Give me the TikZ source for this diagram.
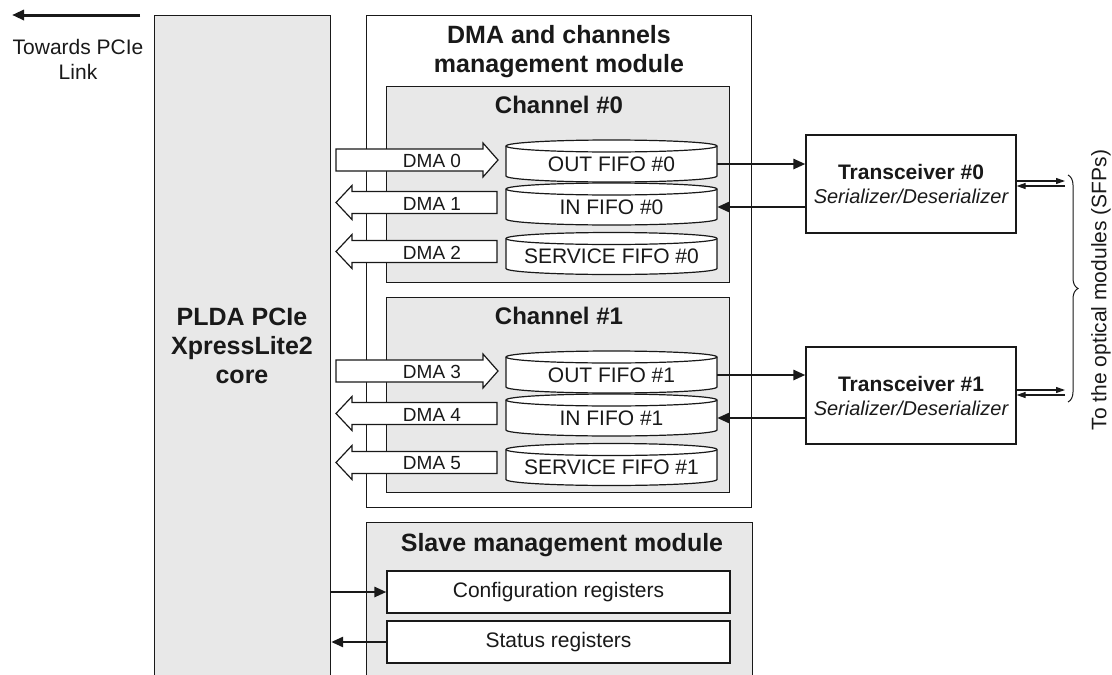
\documentclass[tikz,border=0pt]{standalone}
\usepackage{fontspec}
\setmainfont{Liberation Sans}
\usetikzlibrary{arrows.meta,decorations.pathreplacing}
\definecolor{panel}{RGB}{232,232,232}
\definecolor{ink}{RGB}{25,25,25}
\newcommand\fifo[4]{%
  \draw[frame,fill=white] ({#2-105.5},{#3-15}) -- ({#2-105.5},{#3+15})
    arc[start angle=180,end angle=360,x radius=105.5pt,y radius=6pt]
    -- ({#2+105.5},{#3-15})
    arc[start angle=0,end angle=180,x radius=105.5pt,y radius=6pt] -- cycle;
  \draw[frame] ({#2-105.5},{#3-15}) arc[start angle=180,end angle=360,x radius=105.5pt,y radius=6pt];
  \node[fifotxt] (#1) at (#2,{#3+3}) {#4};
}
\newcommand\dmaright[3]{%
  \draw[frame,fill=white] (336,{#2-11}) -- (483,{#2-11}) -- (483,{#2-17}) -- (498,#2)
    -- (483,{#2+17}) -- (483,{#2+11}) -- (336,{#2+11}) -- cycle;
  \node[dmatxt] (#1) at (432,{#2+1}) {#3};
}
\newcommand\dmaleft[3]{%
  \draw[frame,fill=white] (497,{#2-11}) -- (352,{#2-11}) -- (352,{#2-17}) -- (336,#2)
    -- (352,{#2+17}) -- (352,{#2+11}) -- (497,{#2+11}) -- cycle;
  \node[dmatxt] (#1) at (432,{#2+1}) {#3};
}
\begin{document}
\begin{tikzpicture}[x=1pt,y=-1pt,
  frame/.style={draw=ink,line width=1.2pt},
  grayframe/.style={frame,fill=panel,inner sep=0pt,anchor=north west},
  whiteframe/.style={frame,fill=white,inner sep=0pt},
  title/.style={font=\fontsize{25}{29}\selectfont\bfseries,align=center,text=ink},
  chtitle/.style={font=\fontsize{24}{28}\selectfont\bfseries,text=ink},
  txt/.style={font=\fontsize{21}{25}\selectfont,text=ink,align=center},
  dmatxt/.style={font=\fontsize{19}{22}\selectfont,text=ink},
  fifotxt/.style={txt,minimum width=211pt,minimum height=36pt,inner sep=0pt},
  trx/.style={whiteframe,minimum width=210pt,align=center,text=ink,font=\fontsize{21}{24}\selectfont},
  conn/.style={draw=ink,line width=2.6pt,-{Triangle[length=12pt,width=10pt]}},
  thinarrow/.style={draw=ink,line width=1.1pt,-{Triangle[length=9pt,width=6pt]}},
]
\useasboundingbox (0,0) rectangle (1112,675);
\clip (0,0) rectangle (1112,675);

% PCIe link arrow
\coordinate (pcieA) at (140,15);
\coordinate (pcieB) at (12,15);
\draw[conn,line width=3pt] (pcieA) -- (pcieB);
\node[txt] (pcietext) at (78,59) {Towards PCIe\\Link};

% PLDA core
\node[grayframe,minimum width=176pt,minimum height=690pt] (plda) at (154,15) {};
\node[title] (pldatext) at (242,346) {PLDA PCIe\\XpressLite2\\core};

% DMA module
\node[whiteframe,anchor=north west,minimum width=385pt,minimum height=492pt] (dmamod) at (366,15) {};
\node[title] (dmatitle) at (559,52) {DMA and channels\\management module};

% Channel 0
\node[grayframe,minimum width=343pt,minimum height=196pt] (ch0) at (386,86) {};
\node[chtitle] (ch0t) at (559,105) {Channel \#0};
\fifo{out0}{611.5}{161}{OUT FIFO \#0}
\fifo{in0}{611.5}{204}{IN FIFO \#0}
\fifo{srv0}{611.5}{253.5}{SERVICE FIFO \#0}

% Channel 1
\node[grayframe,minimum width=343pt,minimum height=195pt] (ch1) at (386,297) {};
\node[chtitle] (ch1t) at (559,316) {Channel \#1};
\fifo{out1}{611.5}{372}{OUT FIFO \#1}
\fifo{in1}{611.5}{415}{IN FIFO \#1}
\fifo{srv1}{611.5}{464.5}{SERVICE FIFO \#1}

% DMA arrows
\dmaright{dma0}{160}{DMA 0}
\dmaleft{dma1}{202.5}{DMA 1}
\dmaleft{dma2}{251.5}{DMA 2}
\dmaright{dma3}{371}{DMA 3}
\dmaleft{dma4}{413.5}{DMA 4}
\dmaleft{dma5}{462.5}{DMA 5}

% Slave management module
\node[grayframe,minimum width=386pt,minimum height=170pt] (slave) at (366,522) {};
\node[title,anchor=base] (slavet) at (562,551) {Slave management module};
\node[whiteframe,txt,minimum width=343pt,minimum height=42pt] (cfg) at (558.5,592) {Configuration registers};
\node[whiteframe,txt,minimum width=343pt,minimum height=42pt] (st) at (558.5,642) {Status registers};
\draw[conn] (cfg.west -| plda.east) -- (cfg.west);
\draw[conn] (st.west) -- (st.west -| plda.east);

% Transceivers
\node[trx,minimum height=98pt] (t0) at (911,184)
  {\textbf{Transceiver \#0}\\{\fontsize{20}{24}\selectfont\itshape Serializer/Deserializer}};
\node[trx,minimum height=97pt] (t1) at (911,395.5)
  {\textbf{Transceiver \#1}\\{\fontsize{20}{24}\selectfont\itshape Serializer/Deserializer}};

\draw[conn] (out0.east) -- (out0.east -| t0.west);
\draw[conn] (in0.east -| t0.west) -- (in0.east);
\draw[conn] (out1.east) -- (out1.east -| t1.west);
\draw[conn] (in1.east -| t1.west) -- (in1.east);

% SFP links
\coordinate (s0a) at (1065,181);
\coordinate (s0b) at (1065,186);
\coordinate (s1a) at (1065,390);
\coordinate (s1b) at (1065,395);
\draw[thinarrow] (s0a -| t0.east) -- (s0a);
\draw[thinarrow] (s0b) -- (s0b -| t0.east);
\draw[thinarrow] (s1a -| t1.east) -- (s1a);
\draw[thinarrow] (s1b) -- (s1b -| t1.east);

\coordinate (brtop) at (1068,175);
\coordinate (brbot) at (1068,402);
\draw[draw=ink,line width=1pt,decorate,decoration={brace,amplitude=10pt}] (brtop) -- (brbot);
\node[txt,rotate=90] (sfp) at (1101,290) {To the optical modules (SFPs)};
\end{tikzpicture}
\end{document}
